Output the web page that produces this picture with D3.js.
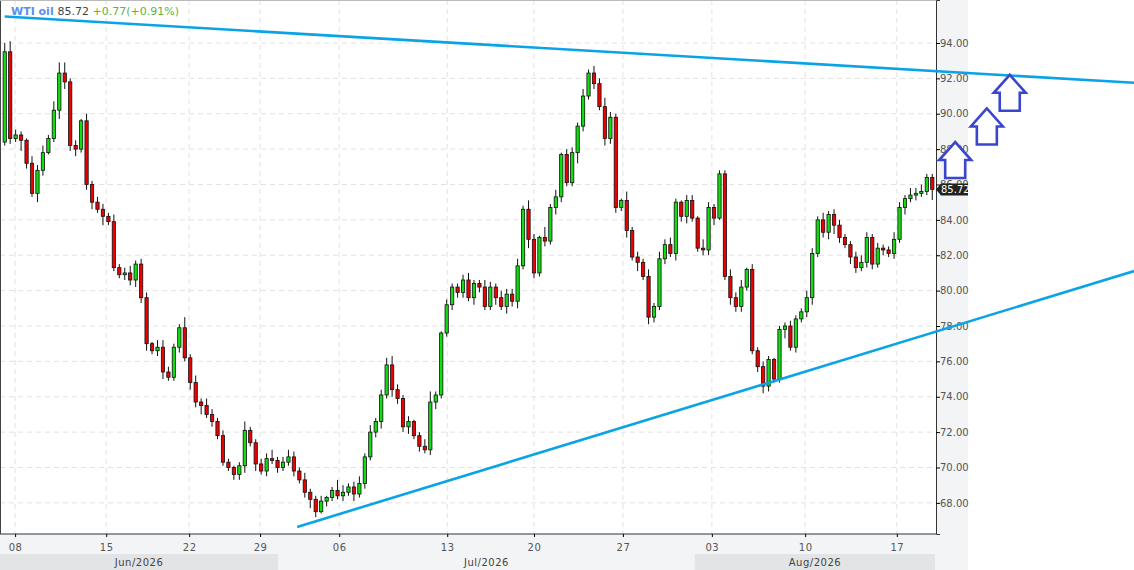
<!DOCTYPE html>
<html><head><meta charset="utf-8">
<script src="https://cdn.jsdelivr.net/npm/d3@7"></script>
<style>body{margin:0;background:#fff}svg{display:block;font-family:"DejaVu Sans",sans-serif}</style>
</head><body><svg id="c" width="1134" height="570"></svg>
<script>
// closing prices, one per candle (open = previous close)
const closes = [
  93.5, 88.6, 88.8, 88.5, 87.2, 85.5, 86.8, 87.8, 88.6, 90.2, 92.3, 91.8, 88.2, 88.0, 89.6, 86.0, 85.0, 84.6, 84.2, 83.9,
  81.3, 80.9, 81.0, 80.6, 81.5, 79.6, 77.0, 76.6, 76.8, 75.4, 75.1, 76.8, 77.9, 76.2, 74.8, 73.7, 73.5, 73.0, 72.6, 71.8,
  70.3, 70.0, 69.6, 70.1, 72.1, 71.4, 70.2, 69.8, 70.5, 70.4, 70.0, 70.3, 70.6, 69.8, 69.3,
  68.6, 68.2, 67.5, 68.1, 68.3, 68.7, 68.4, 68.6, 68.9, 68.5, 69.1, 70.6, 72.0, 72.6, 74.1, 75.8, 74.4, 73.9, 72.3, 72.6,
  71.8, 71.2, 71.0, 73.7, 74.1, 77.6, 79.2,
  80.2, 79.9, 80.6, 79.6, 80.4, 80.2, 79.1, 80.2, 79.6, 79.1, 79.8, 79.4, 81.4, 84.6, 82.9, 81.0, 83.0, 82.8, 84.7, 85.3,
  87.7, 86.1, 87.8, 89.3, 91.0, 92.3, 91.7, 90.4, 88.6,
  89.8, 84.7, 85.1, 83.4, 81.9, 81.6, 80.8, 78.5, 79.1, 81.8, 82.6, 82.1, 85.0, 84.2, 85.1, 84.1, 82.4, 82.3, 84.7,
  84.1, 86.6, 80.8, 79.6, 79.1, 80.2, 81.2, 76.6, 75.7, 74.6, 76.1, 75.0, 77.8, 78.0, 76.8, 78.4, 78.8, 79.6, 82.1,
  84.0, 83.3, 84.3, 83.7, 83.0, 82.6, 81.9, 81.3, 81.6, 83.0, 81.5, 82.4, 82.3, 82.1, 82.9, 84.7, 85.2, 85.4,
  85.5, 85.6, 86.4, 85.72
];
const firstOpen = 88.4;
// wick lengths in tenths of a point (upper / lower), one digit per candle
const wickUp = "5632143425662314233242342331443226242432321252233523432422312642342423453231246213223422432433425316241332424353215232424342133153222434132321223224324233223432322432434224343";
const wickDn = "2326325312543423425222334342342232435232223342423232232353132232423234243342323422333243224243425323243226323243324252432324342233412433223432252323423453243233232324232264333";

const priceTicks = [68, 70, 72, 74, 76, 78, 80, 82, 84, 86, 88, 90, 92, 94];
const dayLabels = ["08", "15", "22", "29", "06", "13", "20", "27", "03", "10", "17"];
const dayIndex = [2.4, 19.1, 34.3, 47.3, 61.8, 81.6, 97.5, 113.8, 130.1, 147.2, 164.0];
const months = [{label: "Jun/2026", from: -0.4, to: 50.6}, {label: "Jul/2026", from: 50.6, to: 127}, {label: "Aug/2026", from: 127, to: 171}];
const upperTrend = [[0.5, 95.5], [207.5, 91.75]];
const lowerTrend = [[54.1, 66.64], [207.5, 81.11]];
const arrows = [[174.7, 88.4], [180.5, 90.3], [184.7, 92.2]];

const n = closes.length;
const candles = closes.map((c, i) => {
  const o = i === 0 ? firstOpen : closes[i - 1];
  const up = +(wickUp[i] || 2) / 10, dn = +(wickDn[i] || 2) / 10;
  return {i, o, c, h: Math.max(o, c) + up, l: Math.min(o, c) - dn};
});

const plotR = 936, plotB = 534;
const svg = d3.select("#c");
const x = d3.scaleLinear().domain([0, 171]).range([2, 935]);
const y = d3.scaleLinear().domain([66.24, 96.43]).range([plotB, 0]);
const step = x(1) - x(0);

// axis backgrounds
svg.append("rect").attr("x", plotR).attr("y", 0).attr("width", 32).attr("height", 570).attr("fill", "#f3f4f6");
svg.append("rect").attr("x", 0).attr("y", plotB).attr("width", plotR).attr("height", 36).attr("fill", "#f3f4f6");
months.forEach((m, k) => {
  svg.append("rect").attr("x", Math.max(0, x(m.from))).attr("y", 554)
    .attr("width", Math.min(plotR, x(m.to)) - Math.max(0, x(m.from))).attr("height", 16)
    .attr("fill", k % 2 === 0 ? "#e3e4e6" : "#f3f4f6");
  svg.append("text").attr("x", (Math.max(0, x(m.from)) + Math.min(plotR, x(m.to))) / 2).attr("y", 566)
    .attr("text-anchor", "middle").attr("font-size", 10).attr("fill", "#444").attr("letter-spacing", 0.5).text(m.label);
});

// grid
const grid = svg.append("g").attr("stroke", "#e2e2e2").attr("stroke-dasharray", "5,4");
priceTicks.forEach(p => grid.append("line").attr("x1", 0).attr("x2", plotR).attr("y1", y(p)).attr("y2", y(p)));
dayIndex.forEach(d => grid.append("line").attr("x1", x(d)).attr("x2", x(d)).attr("y1", 0).attr("y2", plotB));

// axes
svg.append("g").attr("transform", `translate(${plotR},0)`)
  .call(d3.axisRight(y).tickValues(priceTicks).tickFormat(d3.format(".2f")).tickSize(4))
  .call(g => g.select(".domain").attr("stroke", "#333"))
  .call(g => g.selectAll("text").attr("fill", "#555").attr("font-size", 10).attr("font-family", "DejaVu Sans").attr("x", 4));
svg.append("g").attr("transform", `translate(0,${plotB})`)
  .call(d3.axisBottom(x).tickValues(dayIndex).tickFormat((d, i) => dayLabels[i]).tickSize(3).tickSizeOuter(0))
  .call(g => g.select(".domain").attr("stroke", "#333").attr("d", `M0,0H${plotR}`))
  .call(g => g.selectAll("text").attr("fill", "#555").attr("font-size", 10).attr("font-family", "DejaVu Sans").attr("dy", "1.1em").attr("letter-spacing", 0.5));
svg.append("line").attr("x1", 0.5).attr("x2", 0.5).attr("y1", 0).attr("y2", plotB).attr("stroke", "#444");
svg.append("line").attr("x1", 0).attr("x2", plotR).attr("y1", 0.5).attr("y2", 0.5).attr("stroke", "#bbb");

// candles
const cg = svg.append("g");
cg.selectAll("line.w").data(candles).join("line")
  .attr("x1", d => x(d.i + 0.5)).attr("x2", d => x(d.i + 0.5))
  .attr("y1", d => y(d.h)).attr("y2", d => y(d.l)).attr("stroke", "#111");
cg.selectAll("rect").data(candles).join("rect")
  .attr("x", d => x(d.i + 0.5) - step * 0.3).attr("width", step * 0.6)
  .attr("y", d => y(Math.max(d.o, d.c))).attr("height", d => Math.max(1, Math.abs(y(d.o) - y(d.c))))
  .attr("fill", d => d.c >= d.o ? "#11dd11" : "#ee0000").attr("stroke", "#111").attr("stroke-width", 0.8);

// trend lines
const line = d3.line().x(d => x(d[0])).y(d => y(d[1]));
[upperTrend, lowerTrend].forEach(t => svg.append("path").attr("d", line(t)).attr("stroke", "#0aa3e6").attr("stroke-width", 2.6).attr("fill", "none"));

// arrows
const shape = [[0, 0], [-16, 18], [-10, 18], [-10, 36], [10, 36], [10, 18], [16, 18]];
arrows.forEach(a => svg.append("polygon")
  .attr("points", shape.map(p => [x(a[0]) + p[0], y(a[1]) + p[1]].join(",")).join(" "))
  .attr("fill", "#fff").attr("stroke", "#3b46cc").attr("stroke-width", 2.6));

// last price tag
const last = closes[n - 1];
const ly = y(last);
svg.append("path").attr("d", `M${plotR},${ly}l5,-6h27v12h-27z`).attr("fill", "#222");
svg.append("text").attr("x", plotR + 5).attr("y", ly + 4).attr("font-size", 10).attr("fill", "#fff").text(last.toFixed(2));

// legend
const lg = svg.append("text").attr("x", 11).attr("y", 15).attr("font-size", 11);
lg.append("tspan").attr("fill", "#5a8ff0").attr("font-weight", "bold").text("WTI oil ");
lg.append("tspan").attr("fill", "#444").text(last.toFixed(2) + " ");
lg.append("tspan").attr("fill", "#63b23f").text("+0.77(+0.91%)");
</script></body></html>
